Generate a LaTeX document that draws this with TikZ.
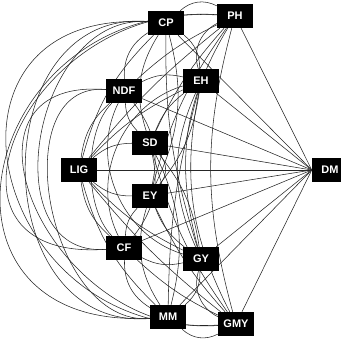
\documentclass[tikz,border=0pt]{standalone}
\usepackage{fontspec}
\setmainfont{Liberation Sans}
\pgfdeclarelayer{bg}
\pgfsetlayers{bg,main}
\begin{document}
\begin{tikzpicture}[x=1pt,y=-1pt,
  box/.style={fill=black,text=white,font=\fontsize{11}{12}\selectfont\bfseries,minimum width=36pt,minimum height=24pt,inner sep=0pt},
  e/.style={line width=0.55pt,draw=black!85}]
\useasboundingbox (0,0) rectangle (341,340);
\node[box] (CP)  at (166,23)  {CP};
\node[box] (PH)  at (235,16)  {PH};
\node[box] (NDF) at (124,91)  {NDF};
\node[box] (EH)  at (201,81)  {EH};
\node[box] (SD)  at (150,143) {SD};
\node[box] (LIG) at (79,170)  {LIG};
\node[box] (DM)  at (330,170) {DM};
\node[box] (EY)  at (150,196) {EY};
\node[box] (CF)  at (124,248) {CF};
\node[box] (GY)  at (201,259) {GY};
\node[box] (MM)  at (168,317) {MM};
\node[box] (GMY) at (236,324) {GMY};
\begin{pgfonlayer}{bg}
% straight edges to DM
\foreach \n in {PH,CP,EH,NDF,SD,LIG,EY,CF,GY,MM,GMY}
  \draw[e] (\n) -- (DM.west);
% big arcs around the left
\draw[e] (PH) .. controls +(-258,-15) and +(-258,15) .. (MM);
\draw[e] (CP) .. controls +(-249,-15) and +(-249,15) .. (GMY);
\draw[e] (PH) .. controls +(-210,-15) and +(-210,15) .. (CF);
\draw[e] (CP) .. controls +(-183,-15) and +(-183,15) .. (MM);
\draw[e] (NDF) .. controls +(-187,-15) and +(-187,15) .. (GMY);
\draw[e] (CP) .. controls +(-133,-10) and +(-133,10) .. (CF);
\draw[e] (NDF) .. controls +(-121,-10) and +(-121,10) .. (MM);
\draw[e] (NDF) .. controls +(-40,40) and +(-40,-40) .. (CF);
% near-vertical top-bottom
\draw[e] (PH) to[bend right=23] (GY);
\draw[e] (EH) to[bend right=19] (GMY);
\draw[e] (PH) to[bend right=15] (GMY);
\draw[e] (EH) to[bend right=24] (GY);
\draw[e] (CP) to[bend right=9] (GY);
\draw[e] (EH) to[bend right=7] (MM);
\draw[e] (EH) to[bend right=50] (CF);
\draw[e] (NDF) to[bend right=50] (GY);
% top group
\draw[e] (CP) to[bend left=35] (PH);
\draw[e] (PH) to[bend right=40] (EH);
\draw[e] (CP) to[bend right=30] (NDF);
\draw[e] (CP) to[bend left=25] (EH);
\draw[e] (NDF) to[bend left=20] (EH);
\draw[e] (PH) to[bend right=8] (NDF);
% bottom group
\draw[e] (MM) to[bend right=35] (GMY);
\draw[e] (GMY) to[bend left=40] (GY);
\draw[e] (MM) to[bend left=30] (CF);
\draw[e] (MM) to[bend right=25] (GY);
\draw[e] (CF) to[bend right=20] (GY);
\draw[e] (GMY) to[bend left=8] (CF);
% top to middle
\draw[e] (PH) to[bend right=8] (SD);
\draw[e] (PH) to[bend right=6] (LIG);
\draw[e] (PH) to[bend right=10] (EY);
\draw[e] (CP) to[bend right=25] (SD);
\draw[e] (CP) to[bend right=15] (LIG);
\draw[e] (CP) to[bend left=20] (EY);
\draw[e] (NDF) to[bend right=20] (SD);
\draw[e] (NDF) to[bend right=20] (LIG);
\draw[e] (NDF) to[bend left=25] (EY);
\draw[e] (EH) to[bend right=15] (SD);
\draw[e] (EH) to[bend right=10] (LIG);
\draw[e] (EH) to[bend left=15] (EY);
% bottom to middle
\draw[e] (GMY) to[bend left=8] (EY);
\draw[e] (GMY) to[bend left=6] (LIG);
\draw[e] (GMY) to[bend left=10] (SD);
\draw[e] (MM) to[bend left=25] (EY);
\draw[e] (MM) to[bend left=15] (LIG);
\draw[e] (MM) to[bend right=20] (SD);
\draw[e] (CF) to[bend left=20] (EY);
\draw[e] (CF) to[bend left=20] (LIG);
\draw[e] (CF) to[bend right=25] (SD);
\draw[e] (GY) to[bend left=15] (EY);
\draw[e] (GY) to[bend left=10] (LIG);
\draw[e] (GY) to[bend right=15] (SD);
% middle
\draw[e] (SD) to[bend left=40] (EY);
\draw[e] (LIG) to[bend left=20] (SD);
\draw[e] (LIG) to[bend right=20] (EY);
\end{pgfonlayer}
\end{tikzpicture}
\end{document}
